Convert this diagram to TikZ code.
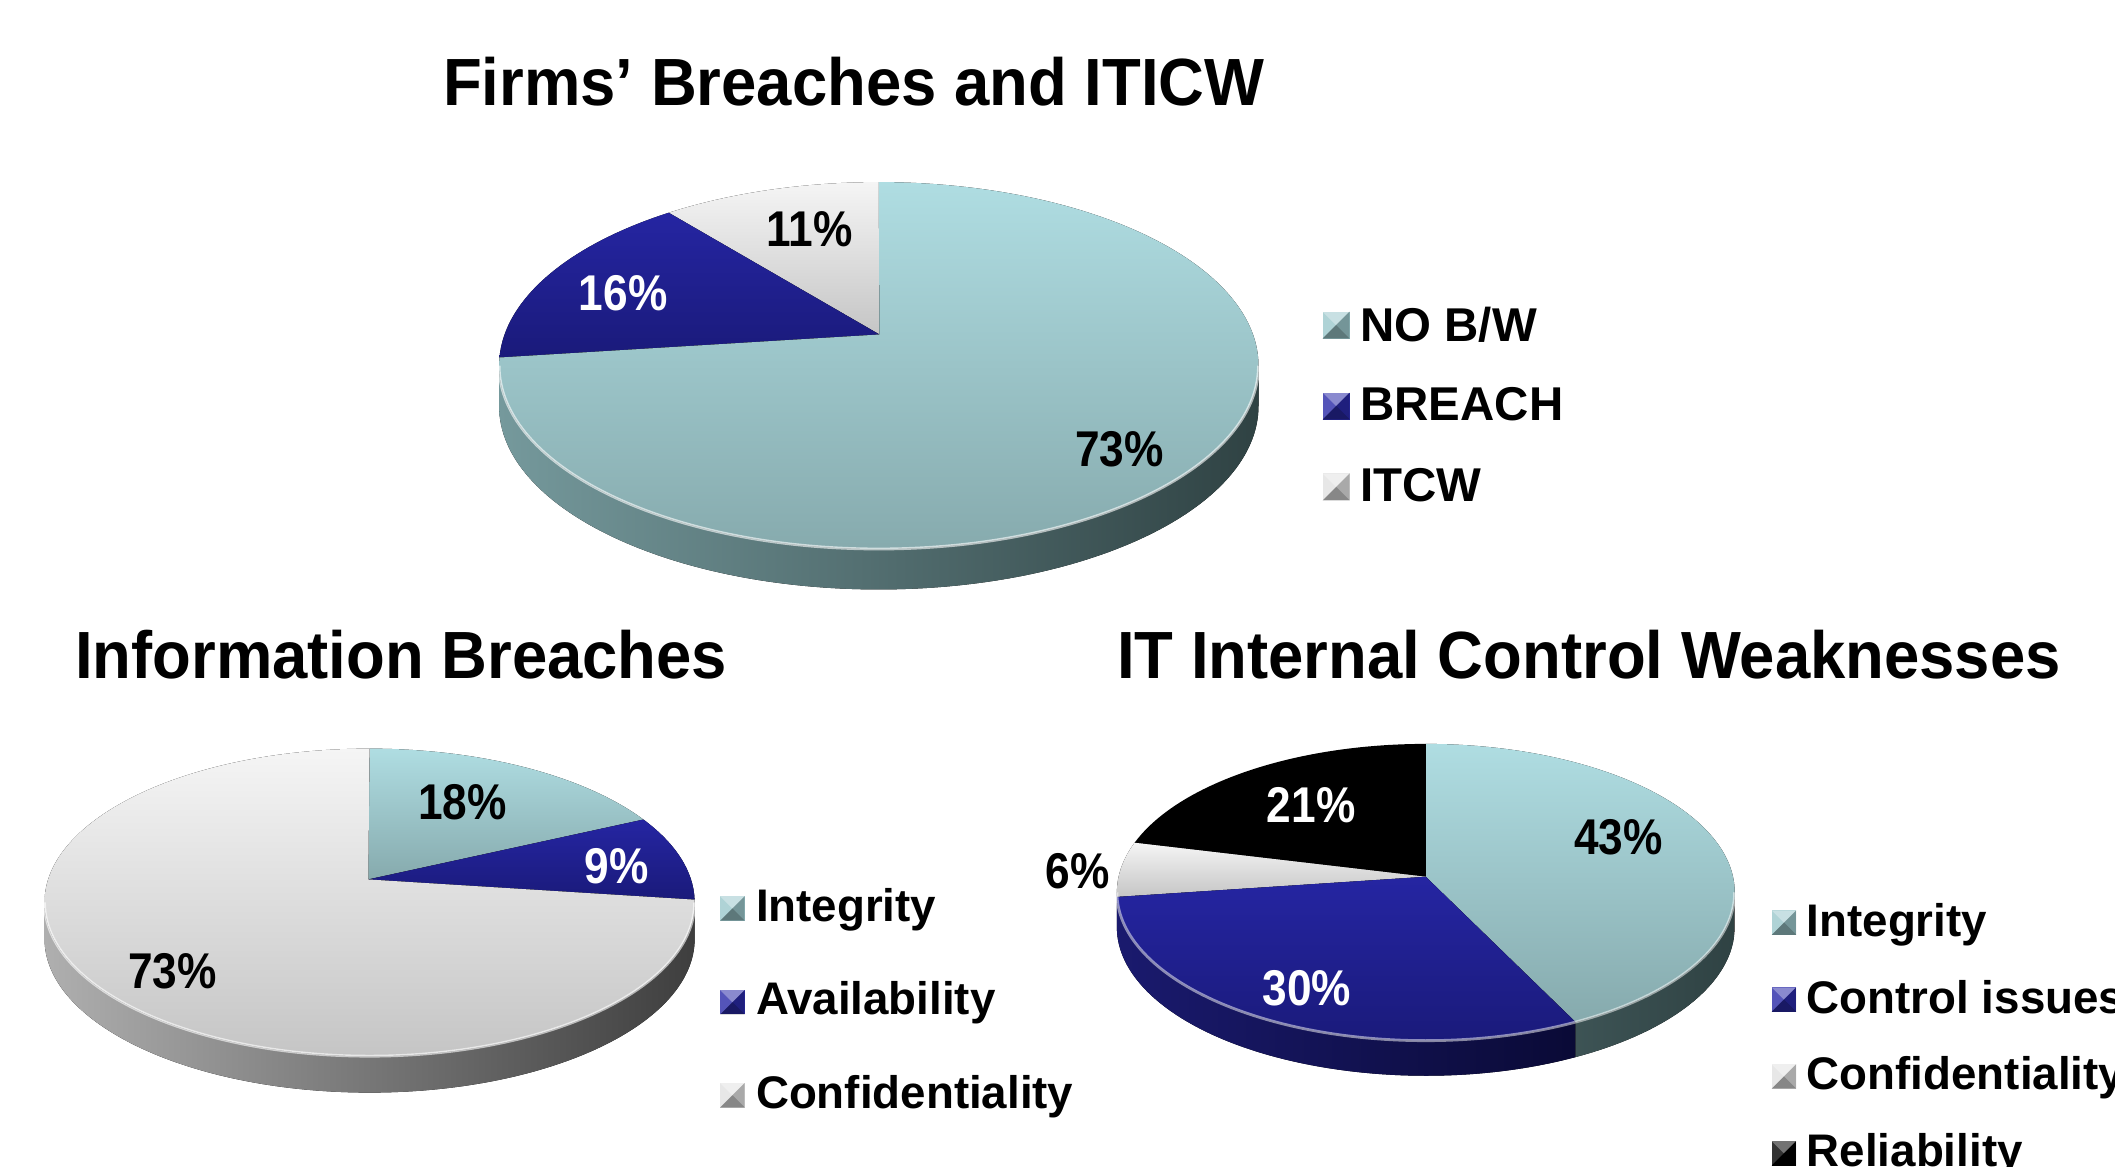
\documentclass[tikz,border=0pt]{standalone}
\usepackage{fontspec}
\setmainfont{Liberation Sans}
\newfontfamily\titlefont[FakeStretch=0.95]{Liberation Sans}
\newfontfamily\pctfont[FakeStretch=0.88]{Liberation Sans}

\definecolor{tealtop}{HTML}{AFDDE2}
\definecolor{tealbot}{HTML}{86AAAD}
\definecolor{tealsideL}{HTML}{75999C}
\definecolor{tealsideR}{HTML}{2F4243}
\definecolor{tealbox}{HTML}{9CC8CC}
\definecolor{bluetop}{HTML}{2525A2}
\definecolor{bluebot}{HTML}{1A1A7A}
\definecolor{bluesideL}{HTML}{1A1A6E}
\definecolor{bluesideR}{HTML}{0A0A36}
\definecolor{bluebox}{HTML}{2A2AA8}
\definecolor{greytop}{HTML}{F5F5F5}
\definecolor{greybot}{HTML}{C5C5C5}
\definecolor{greysideL}{HTML}{AFAFAF}
\definecolor{greysideR}{HTML}{3E3E3E}
\definecolor{greybox}{HTML}{E2E2E2}

\begin{document}
\begin{tikzpicture}[x=0.1349mm, y=0.1349mm,
    charttitle/.style={font=\titlefont\bfseries\fontsize{19}{23}\selectfont, anchor=base, inner sep=0pt},
    pct/.style={font=\pctfont\bfseries\fontsize{14.3}{17}\selectfont, inner sep=0pt},
    legtext/.style={font=\bfseries\fontsize{13}{15}\selectfont, anchor=base west, inner sep=0pt},
    legbox/.style={fill=#1, minimum size=2.45mm, inner sep=0pt, path picture={
        \fill[white, opacity=.45] (path picture bounding box.north west) -- (path picture bounding box.north east) -- (path picture bounding box.center) -- cycle;
        \fill[white, opacity=.2] (path picture bounding box.north west) -- (path picture bounding box.south west) -- (path picture bounding box.center) -- cycle;
        \fill[black, opacity=.25] (path picture bounding box.north east) -- (path picture bounding box.south east) -- (path picture bounding box.center) -- cycle;
        \fill[black, opacity=.4] (path picture bounding box.south west) -- (path picture bounding box.south east) -- (path picture bounding box.center) -- cycle;}}]

    \useasboundingbox (0,0) rectangle (1568,865);
    \clip (0,0) rectangle (1568,865);

    % titles
    \node[charttitle] (tfirms) at (633,787) {Firms’ Breaches and ITICW};
    \node[charttitle] (tinfo) at (297.5,362) {Information Breaches};
    \node[charttitle] (titcw) at (1178,362) {IT Internal Control Weaknesses};

    % top pie
    \coordinate (topc) at (651.5,594);
    \coordinate (topa) at (652,617);
    \fill[left color=tealsideL, right color=tealsideR] ([shift={(180:281.5 and 136)}]topc) arc[start angle=180, end angle=360, x radius=281.5, y radius=136] -- ++(0,-30) arc[start angle=360, end angle=180, x radius=281.5, y radius=136] -- cycle;
    \fill[top color=greytop, bottom color=greybot] (topa) -- ([shift={(90:281.5 and 136)}]topc) arc[start angle=90, end angle=123.6, x radius=281.5, y radius=136] -- cycle;
    \fill[top color=bluetop, bottom color=bluebot] (topa) -- ([shift={(123.6:281.5 and 136)}]topc) arc[start angle=123.6, end angle=177.5, x radius=281.5, y radius=136] -- cycle;
    \fill[top color=tealtop, bottom color=tealbot] (topa) -- ([shift={(177.5:281.5 and 136)}]topc) arc[start angle=177.5, end angle=450, x radius=281.5, y radius=136] -- cycle;
    \draw[white, opacity=.6, line width=.8pt] ([shift={(180:281.5 and 136)}]topc) arc[start angle=180, end angle=360, x radius=281.5, y radius=136];

    \node[pct] (p11) at (600,695) {11\%};
    \node[pct, white] (p16) at (462,648) {16\%};
    \node[pct] (p73a) at (830,532) {73\%};

    % top legend
    \node[legbox=tealbox, minimum size=2.7mm] (bnobw) at (990.5,624) {};
    \node[legbox=bluebox, minimum size=2.7mm] (bbreach) at (990.5,564) {};
    \node[legbox=greybox, minimum size=2.7mm] (bitcw) at (990.5,504) {};
    \node[legtext, font=\bfseries\fontsize{13.5}{16}\selectfont] (lnobw) at (1008,612) {NO B/W};
    \node[legtext, font=\bfseries\fontsize{13.5}{16}\selectfont] (lbreach) at (1008,553) {BREACH};
    \node[legtext, font=\bfseries\fontsize{13.5}{16}\selectfont] (litcw) at (1008,493) {ITCW};

    % information breaches pie
    \coordinate (infc) at (274,196);
    \coordinate (infa) at (273,213);
    \fill[left color=greysideL, right color=greysideR] ([shift={(180:241 and 114)}]infc) arc[start angle=180, end angle=360, x radius=241, y radius=114] -- ++(0,-27) arc[start angle=360, end angle=180, x radius=241, y radius=114] -- cycle;
    \fill[top color=tealtop, bottom color=tealbot] (infa) -- ([shift={(32.6:241 and 114)}]infc) arc[start angle=32.6, end angle=90, x radius=241, y radius=114] -- cycle;
    \fill[top color=bluetop, bottom color=bluebot] (infa) -- ([shift={(1:241 and 114)}]infc) arc[start angle=1, end angle=32.6, x radius=241, y radius=114] -- cycle;
    \fill[top color=greytop, bottom color=greybot] (infa) -- ([shift={(90:241 and 114)}]infc) arc[start angle=90, end angle=361, x radius=241, y radius=114] -- cycle;
    \draw[white, opacity=.6, line width=.8pt] ([shift={(180:241 and 114)}]infc) arc[start angle=180, end angle=360, x radius=241, y radius=114];

    \node[pct] (p18) at (343,270) {18\%};
    \node[pct, white] (p9) at (457,223) {9\%};
    \node[pct] (p73b) at (128,145) {73\%};

    \node[legbox=tealbox] (binteg) at (543,191.5) {};
    \node[legbox=bluebox] (bavail) at (543,122) {};
    \node[legbox=greybox] (bconf) at (543,53) {};
    \node[legtext] (linteg) at (560,182) {Integrity};
    \node[legtext] (lavail) at (560,113) {Availability};
    \node[legtext] (lconf) at (560,43.5) {Confidentiality};

    % it internal control weaknesses pie
    \coordinate (itc) at (1057,203.5);
    \coordinate (ita) at (1057,215);
    \fill[left color=bluesideL, right color=bluesideR] ([shift={(180:229 and 110)}]itc) arc[start angle=180, end angle=299, x radius=229, y radius=110] -- ++(0,-26) arc[start angle=299, end angle=180, x radius=229, y radius=110] -- cycle;
    \fill[left color=tealsideR!80!tealsideL, right color=tealsideR] ([shift={(299:229 and 110)}]itc) arc[start angle=299, end angle=360, x radius=229, y radius=110] -- ++(0,-26) arc[start angle=360, end angle=299, x radius=229, y radius=110] -- cycle;
    \fill[top color=tealtop, bottom color=tealbot] (ita) -- ([shift={(-61:229 and 110)}]itc) arc[start angle=-61, end angle=90, x radius=229, y radius=110] -- cycle;
    \fill[black] (ita) -- ([shift={(90:229 and 110)}]itc) arc[start angle=90, end angle=160.5, x radius=229, y radius=110] -- cycle;
    \fill[top color=greytop, bottom color=greybot] (ita) -- ([shift={(160.5:229 and 110)}]itc) arc[start angle=160.5, end angle=181.8, x radius=229, y radius=110] -- cycle;
    \fill[top color=bluetop, bottom color=bluebot] (ita) -- ([shift={(181.8:229 and 110)}]itc) arc[start angle=181.8, end angle=299, x radius=229, y radius=110] -- cycle;
    \draw[white, opacity=.5, line width=.8pt] ([shift={(180:229 and 110)}]itc) arc[start angle=180, end angle=360, x radius=229, y radius=110];

    \node[pct, white] (p21) at (972,268) {21\%};
    \node[pct] (p43) at (1200,244) {43\%};
    \node[pct, white] (p30) at (969,132) {30\%};
    \node[pct] (p6) at (799,219) {6\%};

    \node[legbox=tealbox] (binteg2) at (1322.5,181) {};
    \node[legbox=bluebox] (bcontrol) at (1322.5,124) {};
    \node[legbox=greybox] (bconf2) at (1322.5,67) {};
    \node[legbox=black] (breli) at (1322.5,10) {};
    \node[legtext] (linteg2) at (1339,171) {Integrity};
    \node[legtext] (lcontrol) at (1339,114) {Control issues};
    \node[legtext] (lconf2) at (1339,57) {Confidentiality};
    \node[legtext] (lreli) at (1339,0) {Reliability};

\end{tikzpicture}
\end{document}
